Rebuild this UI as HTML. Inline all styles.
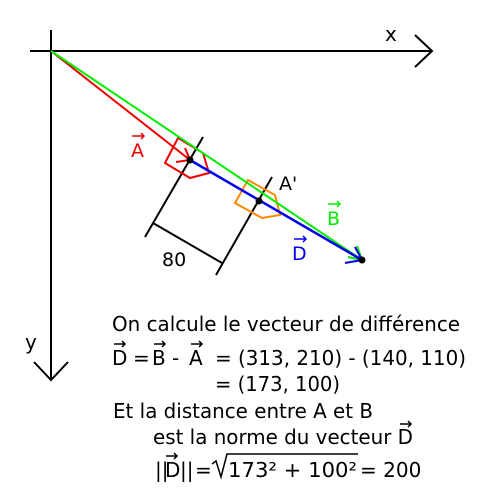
<!DOCTYPE html>
<html><head><meta charset="utf-8"><style>body{margin:0;background:#fff}svg{display:block}text{font-family:"DejaVu Sans","Liberation Sans",sans-serif}</style></head>
<body>
<svg width="500" height="500" viewBox="0 0 500 500">
<g stroke="#000" stroke-width="2" fill="none">
<path d="M30 51H432M415 35L432 51L415 67"/>
<path d="M51 30V380M34 362L51 380L68 362"/>
</g>
<text x="385" y="41" font-size="20">x</text>
<text x="25" y="349" font-size="20">y</text>
<g stroke="#000" stroke-width="2">
<line x1="203" y1="137" x2="145" y2="237"/>
<line x1="272" y1="177" x2="216" y2="275"/>
<line x1="153" y1="223" x2="222" y2="263"/>
</g>
<text x="162" y="266" font-size="19">80</text>
<polygon points="165,163 178,138 203,153 209,173 190,178" fill="none" stroke="#e00" stroke-width="2"/>
<polygon points="235,203 248,180 275,195 280,215 262,218" fill="none" stroke="#f80" stroke-width="2"/>
<line x1="51" y1="51" x2="190" y2="160" stroke="#e00" stroke-width="2"/>
<path d="M176 162L190 160L185 148" fill="none" stroke="#e00" stroke-width="2"/>
<line x1="51" y1="51" x2="362" y2="260" stroke="#0e0" stroke-width="2"/>
<path d="M348 257L362 260L357 246" fill="none" stroke="#0e0" stroke-width="2"/>
<line x1="190" y1="160" x2="362" y2="260" stroke="#00e" stroke-width="2.5"/>
<path d="M345 263L362 260L355 247" fill="none" stroke="#00e" stroke-width="2"/>
<circle cx="190" cy="160" r="3.5" fill="#000"/>
<circle cx="259" cy="201" r="3.5" fill="#000"/>
<circle cx="362" cy="260" r="3.5" fill="#000"/>
<text x="131" y="157" font-size="19" fill="#e00">A</text>
<path d="M132 136H144M141 133L144 136L141 139" stroke="#e00" stroke-width="1.5" fill="none"/>
<text x="279" y="190" font-size="19">A'</text>
<text x="327" y="225" font-size="19" fill="#0e0">B</text>
<path d="M328 204H340M337 201L340 204L337 207" stroke="#0e0" stroke-width="1.5" fill="none"/>
<text x="292" y="260" font-size="19" fill="#00e">D</text>
<path d="M294 239H306M303 236L306 239L303 242" stroke="#00e" stroke-width="1.5" fill="none"/>
<g font-size="20" fill="#000">
<text x="112" y="331" textLength="348" lengthAdjust="spacingAndGlyphs">On calcule le vecteur de différence</text>
<text x="112" y="365">D</text>
<text x="133" y="365">=</text>
<text x="152" y="365">B</text>
<text x="172" y="365">-</text>
<text x="189" y="365">A</text>
<text x="215" y="365" textLength="251" lengthAdjust="spacingAndGlyphs">= (313, 210) - (140, 110)</text>
<text x="215" y="391" textLength="125" lengthAdjust="spacingAndGlyphs">= (173, 100)</text>
<text x="113" y="418" textLength="260" lengthAdjust="spacingAndGlyphs">Et la distance entre A et B</text>
<text x="153" y="444" textLength="260" lengthAdjust="spacingAndGlyphs">est la norme du vecteur D</text>
<text x="155" y="477">||</text>
<text x="165" y="477">D</text>
<text x="180" y="477">||</text>
<text x="195" y="477">=</text>
<text x="228" y="477" textLength="129" lengthAdjust="spacingAndGlyphs">173² + 100²</text>
<text x="360" y="477">= 200</text>
</g>
<g stroke="#000" stroke-width="1.5" fill="none">
<path d="M114 344H125M122 341L125 344L122 347"/>
<path d="M154 344H165M162 341L165 344L162 347"/>
<path d="M191 344H202M199 341L202 344L199 347"/>
<path d="M400 424H411M408 421L411 424L408 427"/>
<path d="M166 456H177M174 453L177 456L174 459"/>
<path d="M212 464L216 461L221 477L227 454H358"/>
</g>
</svg>
</body></html>
